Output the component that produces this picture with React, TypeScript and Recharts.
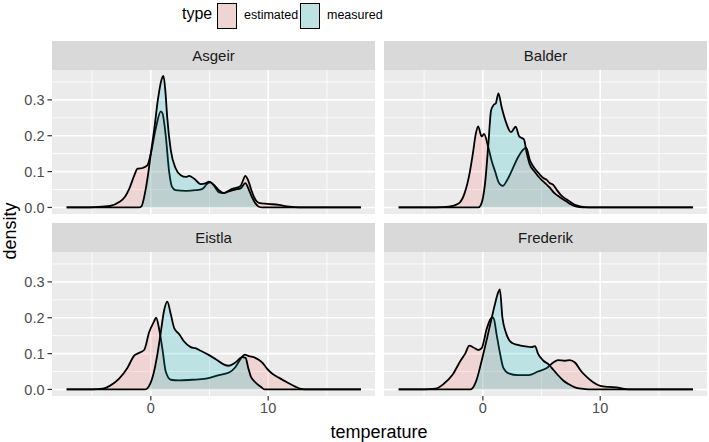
import { Area, AreaChart, CartesianGrid, ReferenceLine, XAxis, YAxis } from "recharts";

// density curves, as [temperature, density] pairs
const asgeirEstimated: [number, number][] = [
  [-7.17, 0], [-5.5, 0], [-4.7, 0.001], [-3.5, 0.004], [-2.7, 0.015], [-2.2, 0.03], [-1.84, 0.052],
  [-1.4, 0.09], [-1.13, 0.108], [-0.7, 0.11], [-0.3, 0.117], [0, 0.15], [0.42, 0.22], [0.85, 0.268],
  [1.0, 0.262], [1.27, 0.2], [1.56, 0.1], [1.8, 0.058], [2.1, 0.048], [3.0, 0.046], [3.8, 0.048],
  [4.4, 0.052], [4.8, 0.066], [5.1, 0.07], [5.4, 0.06], [5.8, 0.042], [6.2, 0.04], [6.8, 0.05],
  [7.4, 0.056], [7.65, 0.06], [7.85, 0.075], [8.05, 0.088], [8.3, 0.075], [8.6, 0.045], [8.9, 0.022],
  [9.2, 0.013], [10.0, 0.01], [10.9, 0.007], [11.8, 0.002], [12.6, 0], [17.9, 0],
];
const asgeirMeasured: [number, number][] = [
  [-7.17, 0], [-1.0, 0], [-0.8, 0.003], [-0.5, 0.04], [-0.2, 0.1], [0, 0.15], [0.3, 0.22], [0.6, 0.3],
  [0.9, 0.355], [1.08, 0.367], [1.25, 0.32], [1.4, 0.25], [1.7, 0.16], [2.1, 0.11], [2.55, 0.09],
  [3.0, 0.085], [3.25, 0.088], [3.7, 0.08], [4.25, 0.065], [4.7, 0.068], [4.95, 0.072], [5.4, 0.062],
  [5.8, 0.048], [6.2, 0.04], [6.65, 0.045], [7.2, 0.05], [7.65, 0.053], [8.05, 0.068], [8.35, 0.05],
  [8.6, 0.03], [8.9, 0.012], [9.2, 0.002], [9.5, 0], [17.9, 0],
];

const balderEstimated: [number, number][] = [
  [-7.17, 0], [-4.0, 0], [-2.9, 0.002], [-2.1, 0.01], [-1.55, 0.04], [-1.1, 0.1], [-0.85, 0.15],
  [-0.6, 0.205], [-0.4, 0.226], [-0.1, 0.198], [0.1, 0.205], [0.45, 0.17], [0.75, 0.13], [1.05, 0.1],
  [1.35, 0.07], [1.7, 0.06], [2.05, 0.075], [2.5, 0.105], [3.0, 0.14], [3.4, 0.16], [3.7, 0.166],
  [4.0, 0.133], [4.3, 0.114], [4.75, 0.096], [5.15, 0.082], [5.45, 0.077], [5.7, 0.068], [6.0, 0.063],
  [6.3, 0.049], [6.7, 0.033], [7.3, 0.019], [7.85, 0.007], [8.4, 0.002], [9.0, 0], [17.9, 0],
];
const balderMeasured: [number, number][] = [
  [-7.17, 0], [-0.4, 0], [-0.2, 0.005], [0.2, 0.07], [0.48, 0.18], [0.7, 0.27], [0.95, 0.287],
  [1.1, 0.29], [1.33, 0.318], [1.6, 0.28], [2.0, 0.235], [2.4, 0.21], [2.8, 0.225], [3.1, 0.198],
  [3.5, 0.19], [3.75, 0.15], [4.0, 0.12], [4.4, 0.1], [4.9, 0.08], [5.3, 0.068], [5.7, 0.055],
  [6.1, 0.04], [6.6, 0.028], [7.1, 0.017], [7.6, 0.007], [8.0, 0.002], [8.5, 0], [17.9, 0],
];

const eistlaEstimated: [number, number][] = [
  [-7.17, 0], [-5.0, 0], [-4.1, 0.002], [-3.5, 0.01], [-2.7, 0.03], [-2.0, 0.06], [-1.4, 0.095],
  [-1.0, 0.102], [-0.57, 0.11], [-0.14, 0.16], [0.28, 0.19], [0.45, 0.2], [0.7, 0.17], [1.0, 0.11],
  [1.27, 0.05], [1.7, 0.027], [2.4, 0.025], [3.5, 0.027], [4.7, 0.03], [5.8, 0.04], [6.7, 0.048],
  [7.2, 0.062], [7.65, 0.085], [8.0, 0.097], [8.35, 0.093], [8.9, 0.088], [9.5, 0.075], [9.9, 0.058],
  [10.3, 0.045], [10.9, 0.033], [11.6, 0.02], [12.3, 0.008], [12.9, 0.001], [13.3, 0], [17.9, 0],
];
const eistlaMeasured: [number, number][] = [
  [-7.17, 0], [-0.5, 0], [-0.3, 0.003], [0.2, 0.04], [0.57, 0.1], [0.85, 0.16], [1.13, 0.22],
  [1.4, 0.245], [1.7, 0.21], [2.0, 0.17], [2.4, 0.155], [2.8, 0.135], [3.4, 0.118], [3.8, 0.115],
  [4.25, 0.108], [5.0, 0.095], [5.5, 0.085], [6.2, 0.07], [6.65, 0.066], [7.2, 0.075], [7.8, 0.09],
  [8.07, 0.088], [8.3, 0.06], [8.5, 0.038], [8.9, 0.02], [9.35, 0.008], [9.7, 0], [17.9, 0],
];

const frederikEstimated: [number, number][] = [
  [-7.17, 0], [-5.0, 0], [-4.05, 0.002], [-3.35, 0.015], [-2.6, 0.04], [-1.9, 0.08], [-1.5, 0.1],
  [-1.15, 0.122], [-0.8, 0.117], [-0.37, 0.11], [-0.1, 0.115], [0.34, 0.17], [0.76, 0.2], [0.9, 0.2],
  [1.19, 0.15], [1.47, 0.1], [1.75, 0.06], [2.2, 0.045], [3.0, 0.04], [3.9, 0.04], [4.7, 0.05],
  [5.45, 0.06], [6.0, 0.075], [6.4, 0.082], [7.0, 0.08], [7.4, 0.082], [7.85, 0.075], [8.4, 0.05],
  [8.85, 0.035], [9.4, 0.02], [10.0, 0.01], [10.7, 0.007], [11.4, 0.006], [11.8, 0.003], [12.4, 0], [17.9, 0],
];
const frederikMeasured: [number, number][] = [
  [-7.17, 0], [-1.1, 0], [-0.93, 0.002], [-0.5, 0.03], [-0.1, 0.08], [0.34, 0.14], [0.76, 0.2],
  [1.05, 0.24], [1.3, 0.27], [1.45, 0.279], [1.67, 0.2], [1.95, 0.16], [2.46, 0.13], [2.9, 0.125],
  [3.6, 0.12], [4.16, 0.118], [4.45, 0.121], [4.7, 0.1], [5.16, 0.08], [5.6, 0.07], [6.0, 0.055],
  [6.4, 0.04], [6.85, 0.025], [7.3, 0.015], [7.85, 0.006], [8.4, 0.002], [9.0, 0], [17.9, 0],
];

const xTicks = [0, 10];
const xMinor = [-5, 5, 15];
const yTicks = [0, 0.1, 0.2, 0.3];
const yMinor = [0.05, 0.15, 0.25, 0.35];

const X_DOMAIN: [number, number] = [-8.42, 19.1];
const Y_DOMAIN: [number, number] = [-0.0183, 0.3833];
const PANEL_W = 323;
const PANEL_H = 144;
const AXIS_W = 52;
const XAXIS_H = 26;
const SPACER_H = 9; // empty room under top-row panels so the 0.0 label is not clipped
const STRIP_H = 29;

const EST_FILL = "#F8766D";
const MEAS_FILL = "#00BFC4";

type Row = { x: number; estimated?: number; measured?: number };

function merge(est: [number, number][], meas: [number, number][]): Row[] {
  const map = new Map<number, Row>();
  est.forEach(([x, y]) => {
    const r = map.get(x) ?? { x };
    r.estimated = y;
    map.set(x, r);
  });
  meas.forEach(([x, y]) => {
    const r = map.get(x) ?? { x };
    r.measured = y;
    map.set(x, r);
  });
  return [...map.values()].sort((a, b) => a.x - b.x);
}

const panels = [
  { name: "Asgeir", rows: merge(asgeirEstimated, asgeirMeasured), left: 0, top: 70, showY: true, showX: false },
  { name: "Balder", rows: merge(balderEstimated, balderMeasured), left: 384, top: 70, showY: false, showX: false },
  { name: "Eistla", rows: merge(eistlaEstimated, eistlaMeasured), left: 0, top: 252, showY: true, showX: true },
  { name: "Frederik", rows: merge(frederikEstimated, frederikMeasured), left: 384, top: 252, showY: false, showX: true },
];

function Panel({ name, rows, left, top, showY, showX }: (typeof panels)[number]) {
  const plotLeft = left + (showY ? AXIS_W : 0);
  const axisH = showX ? XAXIS_H : SPACER_H;
  return (
    <>
      <div
        style={{
          position: "absolute",
          left: plotLeft,
          top: top - STRIP_H,
          width: PANEL_W,
          height: STRIP_H,
          background: "#D9D9D9",
          color: "#1A1A1A",
          fontSize: 15,
          display: "flex",
          alignItems: "center",
          justifyContent: "center",
        }}
      >
        {name}
      </div>
      <div style={{ position: "absolute", left, top }}>
        <AreaChart
          width={PANEL_W + (showY ? AXIS_W : 0)}
          height={PANEL_H + axisH}
          data={rows}
          margin={{ top: 0, right: 0, bottom: 0, left: 0 }}
        >
          <CartesianGrid fill="#EBEBEB" stroke="none" horizontal={false} vertical={false} />
          <XAxis
            type="number"
            dataKey="x"
            domain={X_DOMAIN}
            ticks={xTicks}
            interval={0}
            allowDataOverflow
            height={axisH}
            axisLine={false}
            tickSize={4.5}
            tickMargin={2}
            tickLine={showX ? { stroke: "#333333", strokeWidth: 1.2 } : false}
            tick={showX ? { fill: "#4D4D4D", fontSize: 14.5 } : false}
          />
          <YAxis
            type="number"
            domain={Y_DOMAIN}
            ticks={yTicks}
            interval={0}
            allowDataOverflow
            hide={!showY}
            width={AXIS_W}
            axisLine={false}
            tickSize={4.5}
            tickMargin={3}
            tickLine={{ stroke: "#333333", strokeWidth: 1.2 }}
            tick={{ fill: "#4D4D4D", fontSize: 14.5 }}
            tickFormatter={(v: number) => v.toFixed(1)}
          />
          {xMinor.map((v) => (
            <ReferenceLine key={`xm${v}`} x={v} stroke="#FFFFFF" strokeWidth={0.8} zIndex={-50} />
          ))}
          {yMinor.map((v) => (
            <ReferenceLine key={`ym${v}`} y={v} stroke="#FFFFFF" strokeWidth={0.8} zIndex={-50} />
          ))}
          {xTicks.map((v) => (
            <ReferenceLine key={`x${v}`} x={v} stroke="#FFFFFF" strokeWidth={1.6} zIndex={-50} />
          ))}
          {yTicks.map((v) => (
            <ReferenceLine key={`y${v}`} y={v} stroke="#FFFFFF" strokeWidth={1.6} zIndex={-50} />
          ))}
          <Area
            type="monotone"
            dataKey="estimated"
            stroke="#000000"
            strokeWidth={1.8}
            fill={EST_FILL}
            fillOpacity={0.2}
            connectNulls
            dot={false}
            activeDot={false}
            isAnimationActive={false}
          />
          <Area
            type="monotone"
            dataKey="measured"
            stroke="#000000"
            strokeWidth={1.8}
            fill={MEAS_FILL}
            fillOpacity={0.2}
            connectNulls
            dot={false}
            activeDot={false}
            isAnimationActive={false}
          />
        </AreaChart>
      </div>
    </>
  );
}

const keyBox = (left: number, bg: string) => (
  <div
    style={{
      position: "absolute",
      left,
      top: 3,
      width: 20,
      height: 26,
      boxSizing: "border-box",
      border: "1.5px solid #000",
      background: bg,
    }}
  />
);

export default function App() {
  return (
    <div
      style={{
        position: "absolute",
        left: 0,
        top: 0,
        width: 709,
        height: 442,
        background: "#FFFFFF",
        fontFamily: "'Liberation Sans', Arial, sans-serif",
        overflow: "hidden",
      }}
    >
      {/* legend */}
      <div style={{ position: "absolute", left: 182, top: 5, fontSize: 16, color: "#000" }}>type</div>
      {keyBox(217, "rgb(238,212,210)")}
      <div style={{ position: "absolute", left: 244, top: 8, fontSize: 12.5, color: "#000" }}>estimated</div>
      {keyBox(300, "rgb(188,226,227)")}
      <div style={{ position: "absolute", left: 327, top: 8, fontSize: 12.5, color: "#000" }}>measured</div>

      {panels.map((p) => (
        <Panel key={p.name} {...p} />
      ))}

      {/* axis titles */}
      <div
        style={{
          position: "absolute",
          left: 10,
          top: 231,
          transform: "translate(-50%, -50%) rotate(-90deg)",
          fontSize: 18,
          whiteSpace: "nowrap",
        }}
      >
        density
      </div>
      <div
        style={{
          position: "absolute",
          left: 379,
          top: 432,
          transform: "translate(-50%, -50%)",
          fontSize: 18,
          whiteSpace: "nowrap",
        }}
      >
        temperature
      </div>
    </div>
  );
}
